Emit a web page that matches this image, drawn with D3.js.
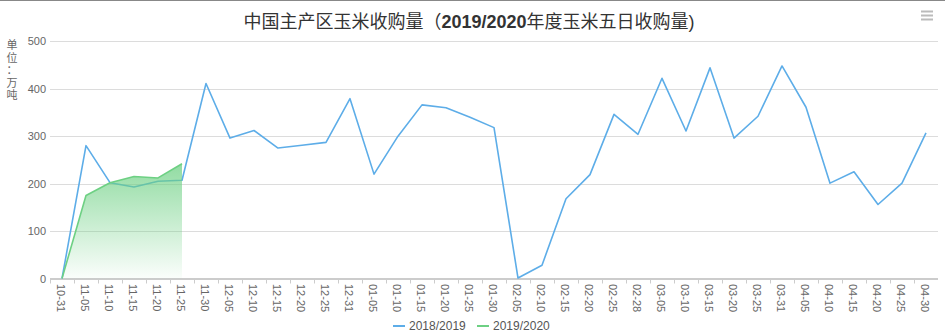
<!DOCTYPE html>
<html lang="zh">
<head>
<meta charset="UTF-8">
<title>中国主产区玉米收购量</title>
<script src="https://d3js.org/d3.v7.min.js" charset="utf-8"></script>
<style>
  body { margin: 0; background: #fff; }
  svg { display: block; font-family: "Lucida Grande", "Lucida Sans Unicode", Arial, "Liberation Sans", "Noto Sans CJK SC", sans-serif; }
</style>
</head>
<body>
<svg></svg>
<script>
  const categories = ['10-31','11-05','11-10','11-15','11-20','11-25','11-30','12-05','12-10','12-15',
    '12-20','12-25','12-31','01-05','01-10','01-15','01-20','01-25','01-30','02-05',
    '02-10','02-15','02-20','02-25','02-28','03-05','03-10','03-15','03-20','03-25',
    '03-31','04-05','04-10','04-15','04-20','04-25','04-30']
  const s2018 = [0, 280, 202, 193, 205, 207, 411, 296, 312, 275,
    281, 287, 379, 220, 300, 366, 360, 340, 318, 1,
    28, 168, 219, 346, 304, 422, 311, 444, 296, 342,
    448, 361, 201, 225, 156, 201, 307]
  const s2019 = [0, 175, 202, 215, 212, 242]
  const yTicks = [0, 100, 200, 300, 400, 500]

  const W = 945, H = 333
  const plotL = 50, plotR = 938, plotT = 41.3, plotB = 278.5

  let svg = d3.select('svg').attr('width', W).attr('height', H)

  let x = d3.scaleBand().domain(categories).range([plotL, plotR])
  let y = d3.scaleLinear().domain([0, 500]).range([plotB, plotT])
  let cx = d => x(d) + x.bandwidth() / 2

  // top border
  svg.append('line').attr('x1', 0).attr('x2', W).attr('y1', 0.5).attr('y2', 0.5)
     .attr('stroke', '#888').attr('stroke-width', 1)

  // gradient for the green area
  let defs = svg.append('defs')
  let grad = defs.append('linearGradient').attr('id', 'greenFill')
    .attr('x1', 0).attr('y1', 0).attr('x2', 0).attr('y2', 1)
  grad.append('stop').attr('offset', '0%').attr('stop-color', '#6dd083').attr('stop-opacity', 0.75)
  grad.append('stop').attr('offset', '100%').attr('stop-color', '#6dd083').attr('stop-opacity', 0.03)

  // grid
  svg.append('g').selectAll('line').data(yTicks.filter(d => d > 0)).join('line')
     .attr('x1', plotL).attr('x2', plotR)
     .attr('y1', d => Math.round(y(d)) + 0.5).attr('y2', d => Math.round(y(d)) + 0.5)
     .attr('stroke', '#dcdcdc').attr('stroke-width', 1)

  // y labels
  svg.append('g').selectAll('text').data(yTicks).join('text')
     .attr('x', 46).attr('y', d => y(d) + 4)
     .attr('text-anchor', 'end').attr('font-size', 11).attr('fill', '#666')
     .text(d => d)

  // y title, stacked upright characters
  let yt = svg.append('text').attr('font-size', 11).attr('fill', '#666')
    .attr('text-anchor', 'middle')
  '单位：万吨'.split('').forEach((c, i) => {
    yt.append('tspan').attr('x', 12).attr('y', 49 + i * 12.5).text(c)
  })

  // x axis line & ticks
  svg.append('line').attr('x1', plotL).attr('x2', plotR)
     .attr('y1', plotB + 0.5).attr('y2', plotB + 0.5)
     .attr('stroke', '#ccc').attr('stroke-width', 2)
  svg.append('g').selectAll('line').data(categories).join('line')
     .attr('x1', d => Math.round(x(d)) + 0.5).attr('x2', d => Math.round(x(d)) + 0.5)
     .attr('y1', plotB).attr('y2', plotB + 5)
     .attr('stroke', '#ccc')

  // x labels rotated
  svg.append('g').selectAll('text').data(categories).join('text')
     .attr('transform', d => `translate(${cx(d) - 1},284) rotate(90)`)
     .attr('dy', '0.35em')
     .attr('font-size', 11).attr('fill', '#666')
     .text(d => d)

  // blue line
  let line = d3.line().x((d, i) => cx(categories[i])).y(d => y(d))
  svg.append('path').datum(s2018)
     .attr('d', line).attr('fill', 'none')
     .attr('stroke', '#5dade8').attr('stroke-width', 1.6).attr('stroke-linejoin', 'round')

  // green area + line
  let area = d3.area().x((d, i) => cx(categories[i])).y0(y(0)).y1(d => y(d))
  svg.append('path').datum(s2019)
     .attr('d', area).attr('fill', 'url(#greenFill)')
  svg.append('path').datum(s2019)
     .attr('d', line).attr('fill', 'none')
     .attr('stroke', '#6dd083').attr('stroke-width', 1.6).attr('stroke-linejoin', 'round')

  // title
  let title = svg.append('text').attr('x', 469).attr('y', 28)
    .attr('text-anchor', 'middle').attr('font-size', 18).attr('fill', '#333')
  title.append('tspan').text('中国主产区玉米收购量（')
  title.append('tspan').attr('font-weight', 'bold').text('2019/2020')
  title.append('tspan').text('年度玉米五日收购量)')

  // menu icon
  svg.append('g').selectAll('line').data([0, 1, 2]).join('line')
     .attr('x1', 921).attr('x2', 933)
     .attr('y1', d => 11.5 + d * 4).attr('y2', d => 11.5 + d * 4)
     .attr('stroke', '#bbb').attr('stroke-width', 2)

  // legend
  const legend = [
    { name: '2018/2019', color: '#5dade8', x: 393 },
    { name: '2019/2020', color: '#6dd083', x: 477 }
  ]
  let lg = svg.append('g').selectAll('g').data(legend).join('g')
    .attr('transform', d => `translate(${d.x},0)`)
  lg.append('line').attr('x1', 0).attr('x2', 12).attr('y1', 326).attr('y2', 326)
    .attr('stroke', d => d.color).attr('stroke-width', 2)
  lg.append('text').attr('x', 16).attr('y', 330)
    .attr('font-size', 12).attr('fill', '#555')
    .text(d => d.name)
</script>
</body>
</html>
